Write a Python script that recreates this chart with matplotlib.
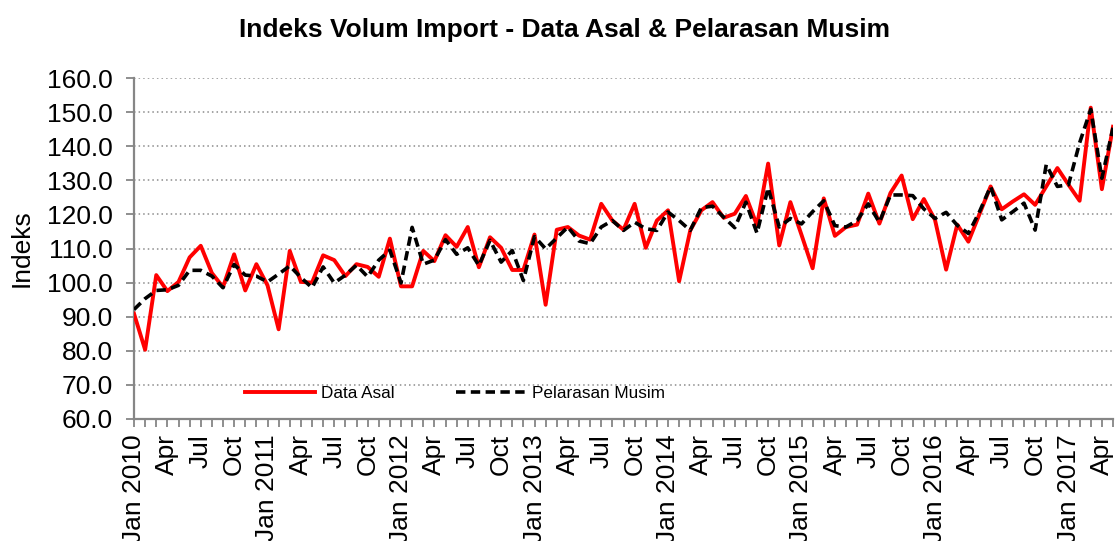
import matplotlib
matplotlib.use("Agg")
import matplotlib.pyplot as plt
from matplotlib.ticker import MultipleLocator, FormatStrFormatter

plt.rcParams['font.family'] = ['Liberation Sans', 'DejaVu Sans']

# Indeks bulanan Jan 2010 - Mei 2017
data_asal = [
    90.9, 80.3, 102.2, 97.5, 100.2, 107.4, 110.8, 102.8, 98.7, 108.3, 97.7, 105.4,
    99.2, 86.3, 109.3, 100.2, 100.0, 108.0, 106.6, 101.9, 105.4, 104.6, 101.7, 112.9,
    98.9, 98.9, 109.3, 106.3, 113.9, 110.5, 116.3, 104.5, 113.3, 110.2, 103.7, 103.7,
    114.1, 93.5, 115.5, 116.3, 113.8, 112.6, 123.1, 118.2, 115.5, 123.1, 110.2, 118.2,
    121.2, 100.4, 115.3, 121.2, 123.6, 119.0, 120.2, 125.4, 116.8, 134.9, 110.9, 123.6,
    114.0, 104.2, 124.7, 113.7, 116.3, 117.0, 126.1, 117.3, 126.3, 131.4, 118.6, 124.5,
    118.4, 103.8, 117.0, 112.0, 120.1, 128.2, 121.5, 123.8, 125.9, 122.8, 128.2, 133.6,
    128.7, 124.0, 151.3, 127.4, 145.7,
]
pelarasan_musim = [
    92.1, 95.3, 97.7, 97.9, 99.2, 103.6, 103.6, 101.9, 98.5, 105.3, 102.2, 101.9,
    100.2, 102.5, 104.9, 101.5, 98.5, 104.6, 99.9, 102.2, 105.1, 101.7, 106.6, 109.5,
    99.9, 116.2, 105.4, 106.6, 112.6, 108.3, 110.2, 105.0, 112.4, 106.0, 109.4, 100.6,
    113.5, 109.9, 113.1, 116.3, 112.2, 111.4, 116.3, 118.2, 115.3, 117.7, 115.8, 115.3,
    120.7, 118.2, 115.3, 122.0, 122.4, 119.2, 116.1, 123.6, 114.5, 127.8, 116.3, 118.8,
    117.2, 120.8, 124.0, 116.7, 116.3, 118.2, 123.1, 117.7, 125.7, 125.7, 125.5, 121.6,
    118.8, 120.6, 116.8, 114.4, 120.8, 128.2, 118.4, 120.8, 123.3, 115.4, 134.6, 128.2,
    128.7, 141.0, 150.8, 130.6, 145.4,
]
tick_labels = [
    'Jan 2010', 'Apr', 'Jul', 'Oct', 'Jan 2011', 'Apr', 'Jul', 'Oct',
    'Jan 2012', 'Apr', 'Jul', 'Oct', 'Jan 2013', 'Apr', 'Jul', 'Oct',
    'Jan 2014', 'Apr', 'Jul', 'Oct', 'Jan 2015', 'Apr', 'Jul', 'Oct',
    'Jan 2016', 'Apr', 'Jul', 'Oct', 'Jan 2017', 'Apr',
]

x = list(range(len(data_asal)))

fig = plt.figure(figsize=(11.16, 5.41), dpi=100)
ax = fig.add_axes([134 / 1116, 122 / 541, 979 / 1116, 341 / 541])

ax.plot(x, data_asal, color='#ff0000', linewidth=2.8, label='Data Asal', zorder=3)
ax.plot(x, pelarasan_musim, color='black', linewidth=2.6, linestyle=(0, (2.6, 1.5)),
        label='Pelarasan Musim', zorder=4)

ax.set_xlim(0, len(x) - 1)
ax.set_ylim(60, 160)
ax.yaxis.set_major_locator(MultipleLocator(10))
ax.yaxis.set_major_formatter(FormatStrFormatter('%.1f'))
ax.grid(axis='y', linestyle=(0, (1, 2)), color='#8c8c8c', linewidth=1.1)

ax.set_xticks(x[::3])
ax.set_xticklabels(tick_labels, rotation=90, va='top', ha='center')
ax.set_xticks(x, minor=True)

for s in ['top', 'right']:
    ax.spines[s].set_visible(False)
for s in ['left', 'bottom']:
    ax.spines[s].set_color('#868686')
    ax.spines[s].set_linewidth(1.6)

ax.tick_params(axis='both', which='both', direction='out', length=6, width=1.3,
               color='#868686', labelsize=19)
ax.tick_params(axis='y', pad=9)
ax.tick_params(axis='x', pad=5)

ax.legend(loc='center left', bbox_to_anchor=(0.113, 0.074), ncol=2, frameon=False,
          fontsize=12.3, handlelength=4.1, handletextpad=0.35, columnspacing=3.6,
          borderpad=0, borderaxespad=0)

fig.text(0.506, 0.945, 'Indeks Volum Import - Data Asal & Pelarasan Musim',
         ha='center', va='center', fontsize=19, fontweight='bold')
fig.text(22 / 1116, 1 - 248 / 541, 'Indeks', rotation=90, ha='center', va='center',
         fontsize=19)

fig.savefig('out.png', dpi=100)
